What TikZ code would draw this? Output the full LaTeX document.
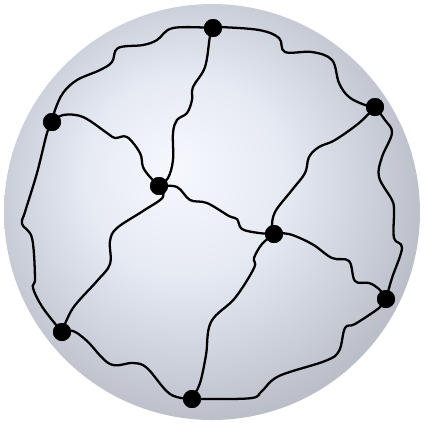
\documentclass[tikz,border=0pt]{standalone}
\usepackage{xcolor}
\usepackage{tikz}
\definecolor{glow}{HTML}{F6F8FE}
\definecolor{mist}{HTML}{E6EAF3}
\definecolor{haze}{HTML}{CBCFDA}
\definecolor{rim}{HTML}{ACAFB7}
\pgfdeclareradialshading{spherelight}{\pgfpoint{-4.5bp}{5.5bp}}{color(0bp)=(glow); color(12bp)=(mist); color(22bp)=(haze); color(33bp)=(rim); color(50bp)=(rim)}
\tikzset{
  dot/.style={circle,fill=black,inner sep=0pt,minimum size=0.18cm},
  wire/.style={line width=0.65pt,draw=black,line join=round}
}
\begin{document}
\begin{tikzpicture}[x=0.01cm,y=-0.01cm]
\useasboundingbox (0,0) rectangle (424,423);
\shade[shading=spherelight] (212,212) circle[radius=208];
% junctions
\node[dot] (A) at (213,28) {};
\node[dot] (B) at (375,107) {};
\node[dot] (C) at (52,122) {};
\node[dot] (D) at (159,186) {};
\node[dot] (E) at (274,234) {};
\node[dot] (F) at (386,299) {};
\node[dot] (G) at (62,332) {};
\node[dot] (H) at (192,399) {};
% wavy links
\draw[wire] plot[smooth,tension=0.6] coordinates {(A.center) (219,27) (259,30) (279,38) (285,52) (312,52) (332,60) (339,83) (349,97) (365,105) (B.center)};
\draw[wire] plot[smooth,tension=0.6] coordinates {(A.center) (173,28) (157,40) (143,45) (118,48) (112,62) (100,70) (77,80) (63,93) (55,110) (C.center)};
\draw[wire] plot[smooth,tension=0.6] coordinates {(A.center) (210,36) (205,67) (193,87) (192,100) (187,113) (177,120) (173,133) (173,160) (168,178) (D.center)};
\draw[wire] plot[smooth,tension=0.6] coordinates {(C.center) (63,115) (83,117) (107,133) (115,138) (127,137) (140,153) (143,167) (150,177) (D.center)};
\draw[wire] plot[smooth,tension=0.6] coordinates {(C.center) (47,133) (37,173) (25,212) (22,224) (32,238) (35,278) (33,288) (43,308) (G.center)};
\draw[wire] plot[smooth,tension=0.6] coordinates {(D.center) (163,197) (143,211) (117,228) (110,241) (110,264) (97,281) (73,308) (G.center)};
\draw[wire] plot[smooth,tension=0.6] coordinates {(D.center) (177,187) (190,200) (207,203) (229,216) (237,219) (242,229) (259,233) (E.center)};
\draw[wire] plot[smooth,tension=0.6] coordinates {(B.center) (359,123) (335,140) (319,147) (309,157) (305,173) (292,190) (275,212) (272,228) (E.center)};
\draw[wire] plot[smooth,tension=0.6] coordinates {(B.center) (385,120) (392,133) (382,157) (379,177) (392,200) (394,211) (394,238) (402,248) (392,278) (F.center)};
\draw[wire] plot[smooth,tension=0.6] coordinates {(E.center) (289,234) (312,244) (332,258) (349,261) (355,281) (369,283) (379,289) (F.center)};
\draw[wire] plot[smooth,tension=0.6] coordinates {(E.center) (262,244) (254,258) (254,268) (235,298) (211,322) (206,355) (200,383) (H.center)};
\draw[wire] plot[smooth,tension=0.6] coordinates {(G.center) (73,331) (87,341) (110,364) (133,363) (147,368) (170,394) (H.center)};
\draw[wire] plot[smooth,tension=0.6] coordinates {(F.center) (379,308) (355,324) (345,328) (339,351) (325,361) (279,376) (262,391) (252,398) (212,399) (H.center)};
% redraw junctions over the links
\foreach \n in {A,B,C,D,E,F,G,H}
  \fill (\n.center) circle[radius=9];
\end{tikzpicture}
\end{document}
